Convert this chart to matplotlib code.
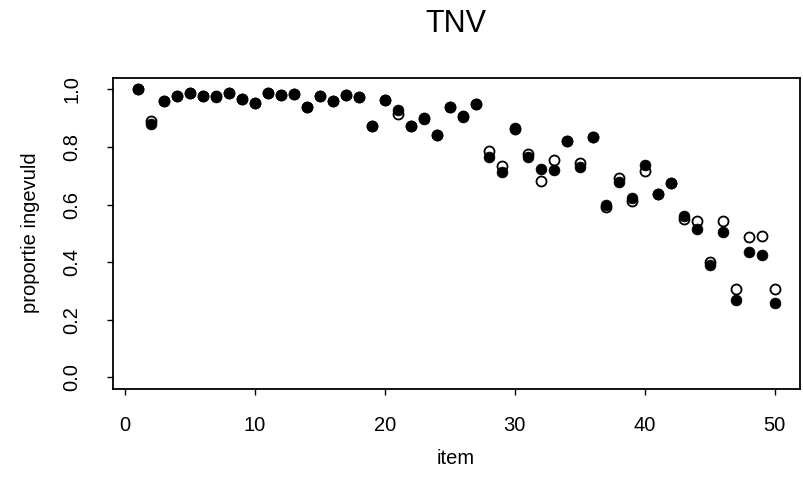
import numpy as np
import matplotlib
matplotlib.use("Agg")
import matplotlib.pyplot as plt

plt.rcParams["font.family"] = ["Liberation Sans", "DejaVu Sans"]

# Data: proportion filled in per item (two groups)
items = list(range(1, 51))
prop_open = [1.000, 0.889, 0.958, 0.976, 0.986, 0.976, 0.978, 0.986, 0.965, 0.951,
             0.986, 0.979, 0.983, 0.938, 0.976, 0.958, 0.979, 0.972, 0.872, 0.962,
             0.913, 0.872, 0.900, 0.840, 0.938, 0.906, 0.948, 0.785, 0.733, 0.861,
             0.774, 0.681, 0.755, 0.819, 0.744, 0.833, 0.592, 0.693, 0.611, 0.716,
             0.637, 0.675, 0.549, 0.544, 0.399, 0.544, 0.307, 0.488, 0.492, 0.306]
prop_filled = [1.000, 0.878, 0.958, 0.976, 0.986, 0.976, 0.972, 0.986, 0.965, 0.951,
               0.986, 0.979, 0.983, 0.938, 0.976, 0.958, 0.979, 0.972, 0.872, 0.962,
               0.927, 0.872, 0.896, 0.840, 0.938, 0.903, 0.948, 0.764, 0.712, 0.865,
               0.764, 0.722, 0.719, 0.819, 0.730, 0.833, 0.600, 0.678, 0.622, 0.736,
               0.637, 0.675, 0.560, 0.514, 0.391, 0.506, 0.270, 0.436, 0.426, 0.260]
x_ticks = [0, 10, 20, 30, 40, 50]
y_ticks = [0.0, 0.2, 0.4, 0.6, 0.8, 1.0]

W, H = 804, 482
fig = plt.figure(figsize=(W / 100, H / 100), dpi=100)
ax = fig.add_axes([112.7 / W, 1 - 389 / H, (800 - 112.7) / W, (389 - 77.7) / H])

ax.plot(items, prop_open, "o", ms=7.2, mfc="white", mec="black", mew=1.3, linestyle="none")
ax.plot(items, prop_filled, "o", ms=7.8, mfc="black", mec="black", mew=0.5, linestyle="none")

ax.set_xlim(-0.96, 51.96)
ax.set_ylim(-0.04, 1.04)
ax.set_xticks(x_ticks)
ax.set_xticklabels([str(t) for t in x_ticks])
ax.set_yticks(y_ticks)
ax.set_yticklabels([f"{t:.1f}" for t in y_ticks], rotation=90, va="center")
ax.tick_params(axis="both", direction="out", length=4.3, width=1, labelsize=14.5)
ax.tick_params(axis="x", pad=15)
ax.tick_params(axis="y", pad=18)
for s in ax.spines.values():
    s.set_linewidth(1.3)

fig.text(456 / W, 1 - 24 / H, "TNV", ha="center", va="center", fontsize=22)
fig.text(456 / W, 1 - 458 / H, "item", ha="center", va="center", fontsize=14.5)
fig.text(31 / W, 1 - 233 / H, "proportie ingevuld", ha="center", va="center",
         rotation=90, fontsize=14.5)

fig.savefig("out.png", dpi=100)
